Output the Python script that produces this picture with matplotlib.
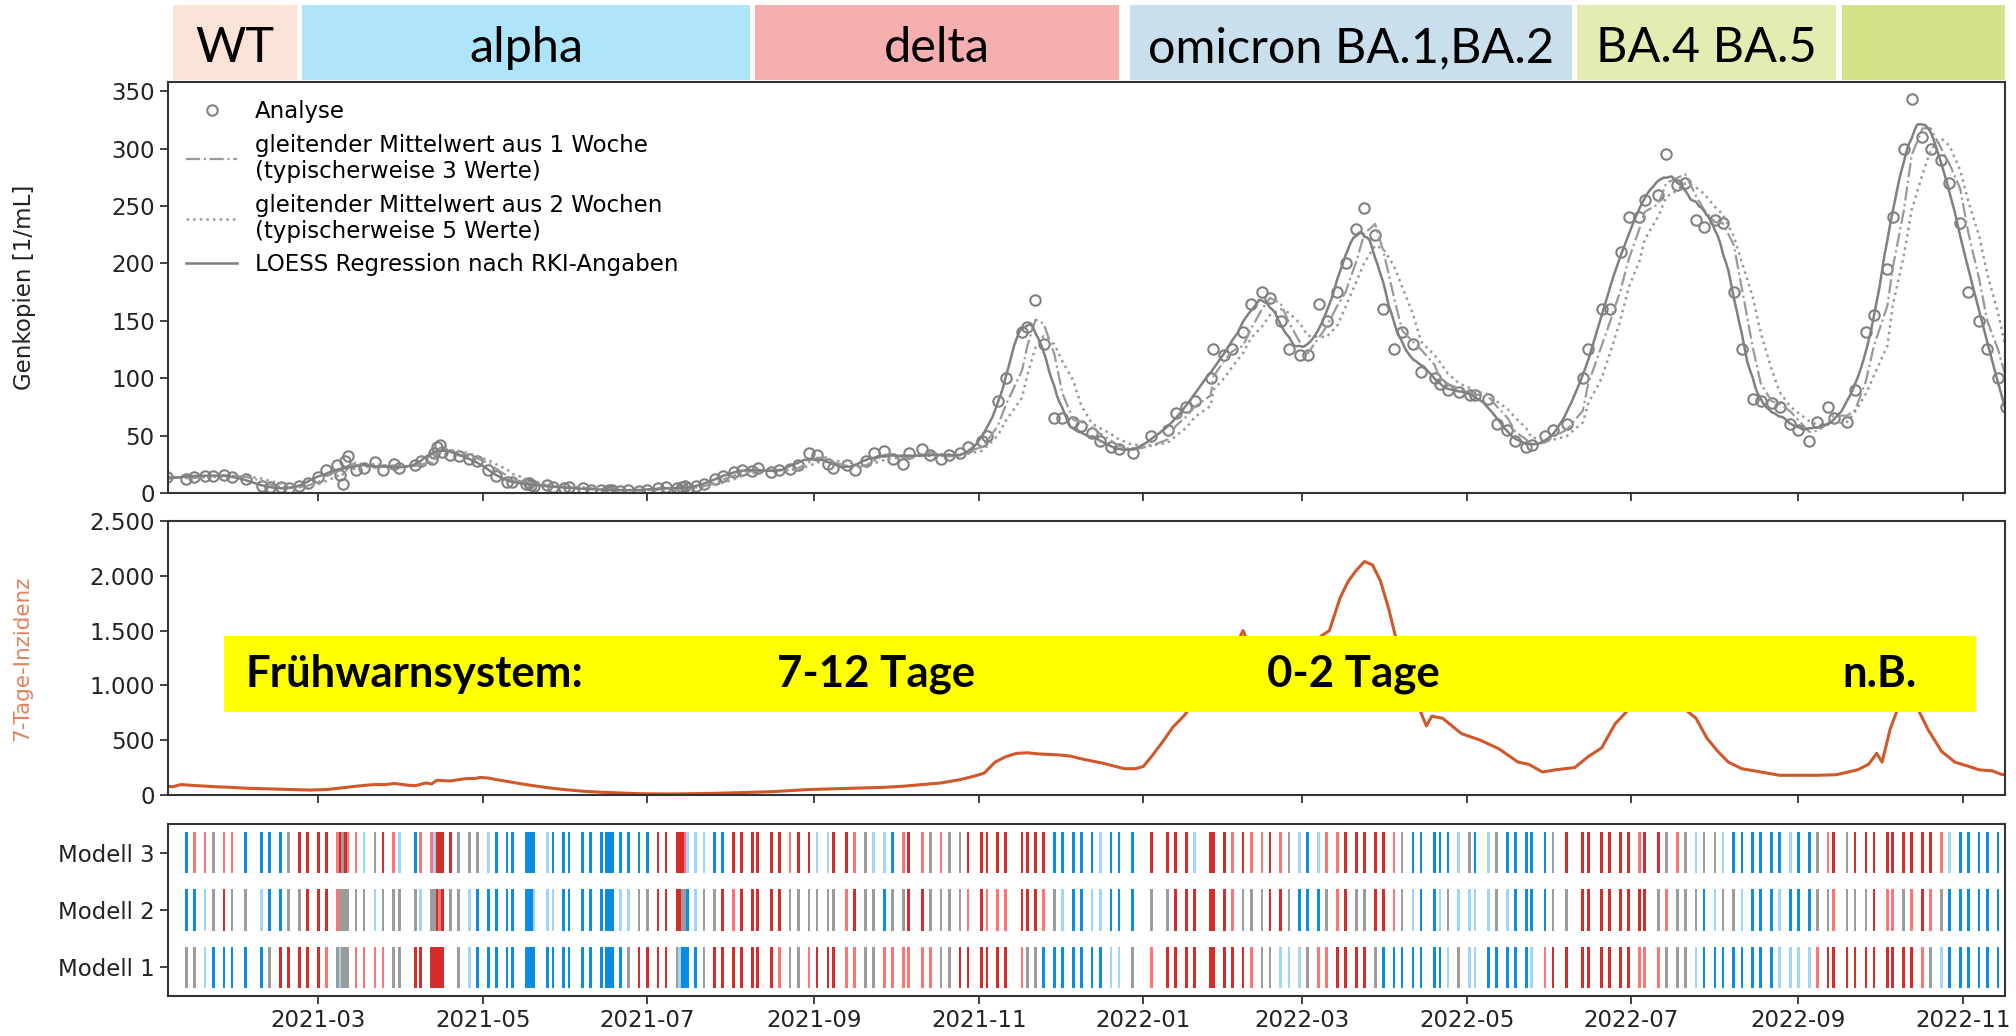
import numpy as np
import pandas as pd
import matplotlib
matplotlib.use("Agg")
import matplotlib.pyplot as plt
import matplotlib.dates as mdates
from matplotlib.patches import Rectangle
from matplotlib.ticker import FuncFormatter, MultipleLocator

START = np.datetime64("2021-01-01")

# ---- wastewater samples: day offset from START, gene copies per mL ----
sample_day = [
    3, 10, 13, 17, 20, 24, 27, 32, 38, 41, 45, 48, 52, 55, 59, 62, 66, 67, 68, 69,
    70, 73, 76, 80, 83, 87, 89, 95, 97, 101, 102, 103, 104, 105, 108, 111, 115, 118, 122, 125,
    129, 131, 136, 137, 138, 139,
    144, 146, 150, 152, 157, 160, 164, 166, 167, 168, 171, 174, 178, 181, 185, 188, 192, 193, 194, 195,
    196, 199, 202, 206, 209, 213, 216, 220, 222, 227, 230, 234, 237, 241, 244, 248, 250, 255, 258, 262,
    265, 269, 272,
    276, 278, 283, 286, 290, 293, 297, 300, 305, 307, 311, 314, 320, 322, 325, 328, 332, 335, 339, 342,
    346, 349, 353, 356, 361, 368, 374, 377, 381, 384, 390, 391, 395, 398, 402, 405, 409, 412,
    416, 419, 423, 426, 430, 433, 437, 440, 444, 447, 451, 454, 458, 461, 465, 468, 473, 475, 478, 482,
    486, 488, 493, 496, 500, 503, 507, 509, 514, 517, 522, 528, 530, 535, 538, 542, 545,
    549, 551, 556, 559, 563, 566, 570, 573, 577, 580, 584, 587, 591, 594, 598, 601, 605, 608, 612, 615,
    619, 621, 626, 629, 633, 636, 641, 643, 647, 650, 654, 657, 661, 664, 668, 671, 675, 678, 682, 685,
]
genkopien = [
    14, 12, 14, 15, 15, 16, 14, 12, 6, 5, 5, 4, 6, 9, 14, 20, 24, 16, 8, 28,
    32, 20, 22, 27, 20, 25, 22, 24, 28, 30, 35, 40, 42, 36, 33, 32, 30, 28, 20, 15,
    10, 10, 8, 9, 7, 6,
    7, 5, 4, 5, 4, 3, 3, 2, 3, 3, 2, 3, 2, 3, 4, 5, 4, 3, 5, 6,
    4, 6, 8, 12, 15, 18, 20, 19, 22, 18, 20, 21, 24, 35, 33, 25, 22, 24, 20, 28,
    35, 37, 30,
    25, 35, 38, 33, 30, 33, 35, 40, 45, 50, 80, 100, 140, 145, 168, 130, 65, 65, 62, 58,
    52, 45, 40, 38, 35, 50, 55, 70, 75, 80, 100, 125, 120, 125, 140, 165, 175, 170,
    150, 125, 120, 120, 165, 150, 175, 200, 230, 248, 225, 160, 125, 140, 130, 105, 100, 95, 90, 88,
    85, 85, 82, 60, 55, 45, 40, 42, 50, 55, 60, 100, 125, 160, 160, 210, 240,
    240, 255, 260, 295, 268, 270, 238, 232, 238, 235, 175, 125, 82, 80, 78, 75, 60, 55, 45, 62,
    75, 65, 62, 90, 140, 155, 195, 240, 300, 343, 310, 300, 290, 270, 235, 175, 150, 125, 100, 75,
]

# ---- model classification per sample (B/b: falling, g: stable, R/r: rising, '.': none) ----
modell_3 = ("BBrrgrrBBBBgRRRRrRgRrrbgRrbBrrbRRRRgggbBBBBBBB"
            "bBBBBBBBBBBBBBRRRRRrbbbBBRRRRRRrRRbbRRrgbbB"
            "rRrgrggRRRRRRRRRBBBBBbBBBRRRRbRRRrRrrR"
            "rgbBbrrRRRRRrgBBBBBbgBbgBBBBBgRRRRRRR"
            "rRRgrgbggbBBBBBBbBBgrRgRRRRRRRRRrbBBBBBB")
modell_2 = ("gBBbgRggbBBggRRRrggggggbggggbggRrRggbBBBBBBBBb"
            "bbBBBBBBBBbbggRRRRggBbggRrRRRRRggggggrRggBg"
            "gRRggggrRrrrRRRrgbBBbbBBBggRRRRRRrgggR"
            "RgBBBgrRggRRrgbBBbgbbbbgbBBBBggRRRRRR"
            "RRgrgggBbggbBBBbBBBggrgggRrrgrRrgBBBBBBB")
modell_1 = ("bggbBBBBBgRRRRRrgbgggrrrrggRRRRRRR.gbBBBBBBBBB"
            "BBBBBBBBBBBgRRRRgbBBBBgRRRRRRRrggrRRRrrggrr"
            "rrrrggRRRRRRrggBBBBBBBbbgrRRRRRRRRRrgg"
            "bbbgrrRRRRgBBBBBBBbgbbBBBBBbrRRRRRRRR"
            "rrrgggbBBBBBBBBbbbbrRRRRRRRRRRrgbBBBBBBB")
modell_namen = ["Modell 1", "Modell 2", "Modell 3"]
code_farben = {"B": "#0a8ddf", "b": "#9fd5f9", "g": "#9c9c9c",
               "R": "#d42b2b", "r": "#ff7474"}

# ---- 7-day incidence ----
inzidenz_day = [
    3, 5, 8, 11, 14, 18, 21, 25, 28, 32, 35, 39, 42, 46, 49, 53, 56, 59, 62, 66,
    70, 73, 77, 80, 84, 87, 89, 92, 95, 99, 101, 103, 106, 108, 111, 114, 117, 119, 122, 124,
    130, 136, 143, 150, 157, 164, 171, 178, 185, 192, 199, 206, 213, 220, 227, 234, 241, 248, 255,
    262, 269, 276, 283, 290, 297, 302, 306, 310, 314, 318, 322, 326, 330, 334, 338, 342, 346, 350, 354,
    358, 362, 365, 368, 372, 376, 380, 384, 390, 395, 400, 402, 404, 410, 416, 422, 428, 434, 438, 441,
    444, 447, 450, 453, 456, 460, 465, 468, 470, 472, 476, 483, 490, 497, 504, 508, 513, 518, 525, 530,
    535, 540, 545, 550, 555, 560, 565, 570, 574, 578, 582, 587, 594, 601, 608, 615, 622, 630, 634, 637,
    639, 642, 645, 649, 652, 656, 661, 666, 670, 675, 680, 683, 686,
]
inzidenz = [
    80, 75, 95, 90, 85, 80, 75, 72, 68, 62, 60, 57, 55, 52, 50, 48, 45, 47, 50, 60,
    72, 80, 90, 95, 95, 105, 100, 90, 85, 110, 100, 135, 130, 128, 140, 150, 150, 160, 155, 145,
    120, 95, 70, 50, 35, 25, 18, 12, 10, 10, 12, 15, 20, 25, 30, 40, 50, 55, 60,
    65, 70, 80, 95, 110, 140, 170, 200, 300, 350, 380, 385, 375, 370, 365, 355, 330, 310, 290, 265,
    240, 240, 260, 350, 480, 620, 720, 850, 1000, 1200, 1400, 1500, 1380, 1300, 1350, 1350, 1400, 1500, 1800, 1950,
    2050, 2130, 2100, 1950, 1700, 1300, 900, 750, 630, 720, 700, 560, 500, 420, 300, 280, 210, 230, 250, 350,
    430, 650, 780, 800, 820, 850, 800, 700, 520, 400, 300, 240, 210, 180, 180, 180, 185, 230, 280, 380,
    300, 600, 800, 850, 800, 600, 400, 300, 270, 230, 220, 190, 180,
]

# ---- variant periods shown above the chart ----
varianten = ["WT", "alpha", "delta", "omicron BA.1,BA.2", "BA.4 BA.5", ""]
varianten_start = ["2021-01-06", "2021-02-23", "2021-08-10", "2021-12-27", "2022-06-11", "2022-09-17"]
varianten_ende = ["2021-02-21", "2021-08-08", "2021-12-23", "2022-06-09", "2022-09-15", "2022-11-18"]
varianten_farbe = ["#fbe4d7", "#aee5fb", "#f5afaf", "#cadfec", "#e3edb1", "#d5e28a"]

# ---- early-warning banner ----
warn_texte = ["Frühwarnsystem:", "7-12 Tage", "0-2 Tage", "n.B."]
warn_pos = ["2021-02-02", "2021-09-24", "2022-03-20", "2022-10-01"]
warn_box = ("2021-01-25", "2022-11-06", 760, 1455)


def to_num(days):
    return mdates.date2num(START + np.asarray(days).astype("timedelta64[D]"))


def d2n(s):
    return mdates.date2num(np.datetime64(s))


def loess(x, y, grid, k):
    out = np.empty(len(grid))
    for i, t in enumerate(grid):
        dist = np.abs(x - t)
        h = np.sort(dist)[k - 1] * 1.0001
        w = np.clip(1 - (dist / h) ** 3, 0, None) ** 3
        X = np.vstack([np.ones_like(x), x - t, (x - t) ** 2]).T
        sw = np.sqrt(w)
        beta = np.linalg.lstsq(X * sw[:, None], y * sw, rcond=None)[0]
        out[i] = beta[0]
    return out


plt.rcParams["font.family"] = ["DejaVu Sans"]
plt.rcParams["font.size"] = 16.5
plt.rcParams["axes.edgecolor"] = "#333333"
plt.rcParams["axes.linewidth"] = 1.5
plt.rcParams["xtick.color"] = "#333333"
plt.rcParams["ytick.color"] = "#333333"
plt.rcParams["xtick.labelcolor"] = "#222222"
plt.rcParams["ytick.labelcolor"] = "#222222"
plt.rcParams["xtick.major.size"] = 6
plt.rcParams["ytick.major.size"] = 6
plt.rcParams["xtick.major.width"] = 1.3
plt.rcParams["ytick.major.width"] = 1.3

fig = plt.figure(figsize=(20.16, 10.36), dpi=100)
L, W = 168 / 2016, (2005 - 168) / 2016
H = 1036.0


def box(top, bottom):
    return [L, 1 - bottom / H, W, (bottom - top) / H]


ax_var = fig.add_axes(box(5, 80))
ax_top = fig.add_axes(box(82, 493), sharex=ax_var)
ax_mid = fig.add_axes(box(521, 795), sharex=ax_var)
ax_bot = fig.add_axes(box(824, 996), sharex=ax_var)

x_s = to_num(sample_day)
y_s = np.asarray(genkopien, dtype=float)
x_lim = (to_num([3])[0] + 0.25, to_num([684])[0] + 0.6)

# variant strip
for name, a, b, c in zip(varianten, varianten_start, varianten_ende, varianten_farbe):
    ax_var.axvspan(d2n(a), d2n(b), color=c, lw=0)
    if name:
        ax_var.text((d2n(a) + d2n(b)) / 2, 0.42, name, ha="center", va="center",
                    fontsize=35, family="Lato", color="black")
ax_var.set_ylim(0, 1)
ax_var.axis("off")

# wastewater panel
grey = "#808080"
roll3 = pd.Series(y_s).rolling(3, min_periods=1).mean()
roll5 = pd.Series(y_s).rolling(5, min_periods=1).mean()
grid = np.arange(x_s[0], x_s[-1] + 1, 1.0)
fit = loess(x_s, y_s, grid, 12)
ax_top.plot(x_s, y_s, "o", mfc="none", mec=grey, mew=1.5, ms=7.5, label="Analyse")
ax_top.plot(x_s, roll3, "-.", color="#999999", lw=1.6,
            label="gleitender Mittelwert aus 1 Woche\n(typischerweise 3 Werte)")
ax_top.plot(x_s, roll5, ":", color="#999999", lw=1.8,
            label="gleitender Mittelwert aus 2 Wochen\n(typischerweise 5 Werte)")
ax_top.plot(grid, fit, "-", color=grey, lw=1.8, label="LOESS Regression nach RKI-Angaben")
ax_top.set_ylim(0, 358)
ax_top.yaxis.set_major_locator(MultipleLocator(50))
ax_top.set_ylabel("Genkopien [1/mL]", color="#222222")
ax_top.yaxis.set_label_coords(-0.072, 0.5)
ax_top.tick_params(labelbottom=False)
ax_top.legend(loc="upper left", frameon=False, fontsize=16.5, handlelength=2.2,
              borderaxespad=0.4, labelspacing=0.45, bbox_to_anchor=(0.0, 1.0))

# incidence panel
ax_mid.plot(to_num(inzidenz_day), inzidenz, color="#d0582a", lw=2.2)
ax_mid.set_ylim(0, 2500)
ax_mid.yaxis.set_major_locator(MultipleLocator(500))
ax_mid.yaxis.set_major_formatter(FuncFormatter(lambda v, p: f"{v:,.0f}".replace(",", ".")))
ax_mid.set_ylabel("7-Tage-Inzidenz", color="#e3825c", fontsize=15.5)
ax_mid.yaxis.set_label_coords(-0.074, 0.5)
ax_mid.tick_params(labelbottom=False)
bx0, bx1, by0, by1 = d2n(warn_box[0]), d2n(warn_box[1]), warn_box[2], warn_box[3]
ax_mid.add_patch(Rectangle((bx0, by0), bx1 - bx0, by1 - by0, facecolor="#ffff00",
                           edgecolor="none", zorder=5))
ymid = (by0 + by1) / 2
for i, (t, p) in enumerate(zip(warn_texte, warn_pos)):
    ax_mid.text(d2n(p), ymid, t, ha="left" if i == 0 else "center", va="center",
                fontsize=31.5, fontweight="bold", family="Lato", color="black", zorder=6)

# model stripes
for row, codes in enumerate([modell_1, modell_2, modell_3], start=1):
    xs = [x for x, c in zip(x_s, codes) if c in code_farben]
    cs = [code_farben[c] for c in codes if c in code_farben]
    ax_bot.bar(xs, 0.72, width=1.0, bottom=row - 0.36, color=cs, lw=0)
ax_bot.set_ylim(0.5, 3.5)
ax_bot.set_yticks([1, 2, 3])
ax_bot.set_yticklabels(modell_namen)

ax_bot.set_xlim(*x_lim)
ax_bot.xaxis.set_major_locator(mdates.MonthLocator(bymonth=[1, 3, 5, 7, 9, 11]))
ax_bot.xaxis.set_major_formatter(mdates.DateFormatter("%Y-%m"))

fig.savefig("out.png", dpi=100)
